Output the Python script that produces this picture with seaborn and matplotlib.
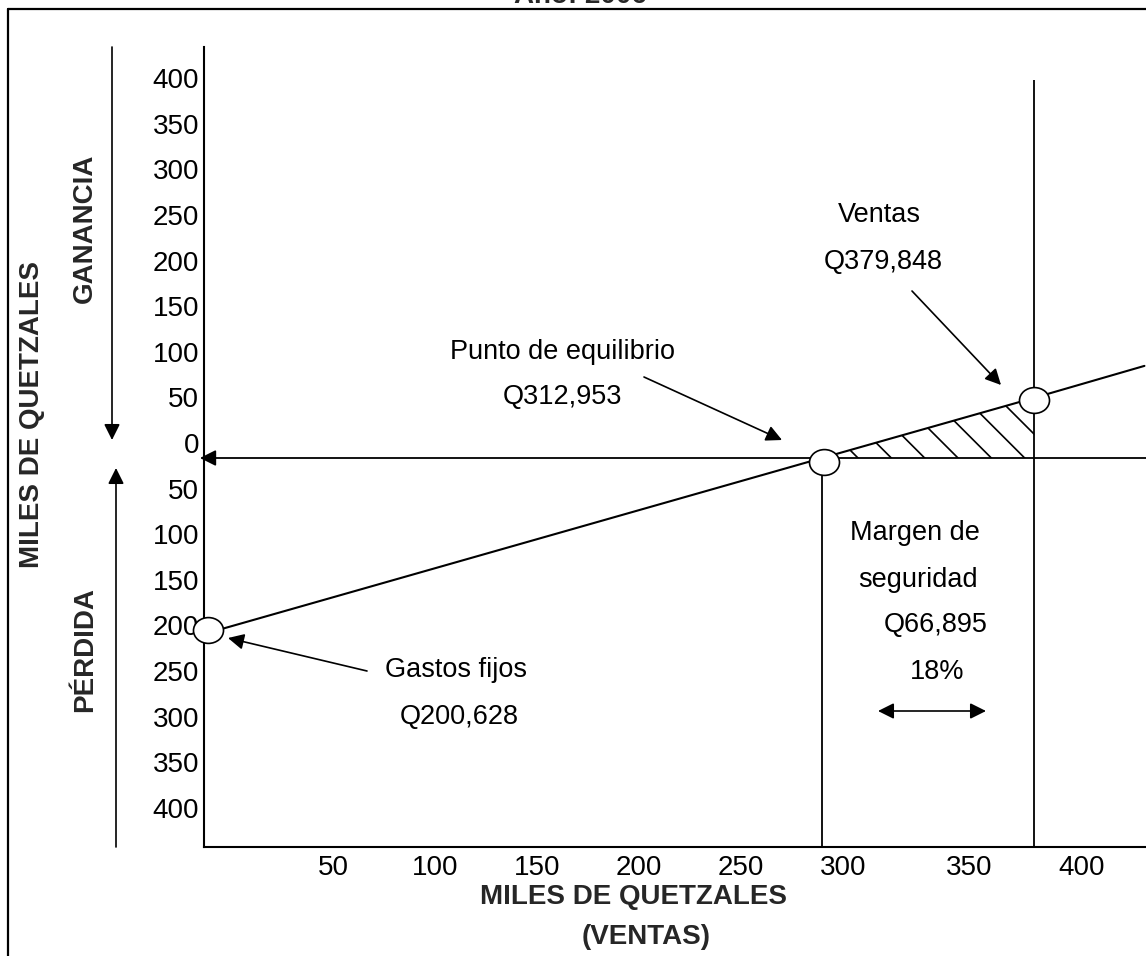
import matplotlib
matplotlib.use('Agg')  # no display in the sandbox
import matplotlib.pyplot as plt
from matplotlib.path import Path
from matplotlib.transforms import Affine2D, ScaledTranslation
from matplotlib.lines import Line2D
import seaborn as sns

# Values (miles de quetzales, drawn scale)
line_x = [0, 303, 407, 461]          # ventas / costos line
line_y = [-193, 0, 66, 101]
point_x = [2, 304, 407]              # gastos fijos, equilibrio, ventas
point_y = [-189, -4, 64]
breakeven_x = 303
sales_x = 407
sales_top = 414
hatch_x = [303, 407]                 # margen de seguridad area
hatch_y = [0, 66]

xtick_pos = [50, 100, 150, 200, 250, 300, 362, 417]
xtick_labels = ['50', '100', '150', '200', '250', '300', '350', '400']
ytick_vals = [400, 350, 300, 250, 200, 150, 100, 50, 0,
              -50, -100, -150, -200, -250, -300, -350, -400]
ytick_labels = ['400', '350', '300', '250', '200', '150', '100', '50', '0',
                '50', '100', '150', '200', '250', '300', '350', '400']

W, H = 1146, 956

sns.set_style('white')
plt.rcParams['font.family'] = ['Liberation Sans', 'DejaVu Sans']
plt.rcParams['hatch.linewidth'] = 1.2


def fxy(px, py):
    # picture pixel -> figure fraction
    return (px / W, 1 - py / H)


fig = plt.figure(figsize=(W / 100, H / 100), dpi=100)
ax = fig.add_axes([204 / W, 1 - 847 / H, (W - 204) / W, (847 - 47) / H])
ax.set_xlim(0, (W - 204) / 2.04)
ax.set_ylim((458 - 847) / 0.912, (458 - 47) / 0.912)
ybot = ax.get_ylim()[0]
xright = ax.get_xlim()[1]

for side in ['top', 'right']:
    ax.spines[side].set_visible(False)
for side in ['left', 'bottom']:
    ax.spines[side].set_linewidth(1.5)
    ax.spines[side].set_color('black')

ax.tick_params(axis='x', direction='in', length=18, width=1.1, pad=6,
               labelsize=20, colors='black')
ax.tick_params(axis='y', direction='in', length=12, width=1.5, pad=3.5,
               labelsize=20, colors='black')
ax.set_xticks(xtick_pos, labels=xtick_labels)
ax.set_yticks(ytick_vals, labels=ytick_labels)
for lab in ax.get_xticklabels():
    lab.set_transform(lab.get_transform() + ScaledTranslation(0.27, 0, fig.dpi_scale_trans))
for lab in ax.get_yticklabels():
    lab.set_transform(lab.get_transform() + ScaledTranslation(0, 0.15, fig.dpi_scale_trans))

# hatched safety margin
ax.fill_between(hatch_x, 0, hatch_y, facecolor='none', edgecolor='black',
                hatch='\\', linewidth=0, zorder=1)

# sales / cost line
sns.lineplot(x=line_x, y=line_y, color='black', linewidth=1.5, ax=ax,
             zorder=2, clip_on=False)

# zero line with arrow pointing to the axis
ax.annotate('', xy=(-2, 0), xytext=(xright, 0),
            arrowprops=dict(arrowstyle='-|>', color='black', lw=1.3,
                            mutation_scale=24, shrinkA=0, shrinkB=0),
            annotation_clip=False)

# vertical guides
ax.vlines(breakeven_x, ybot, 0, color='black', linewidth=1.3, zorder=2)
ax.vlines(sales_x, ybot, sales_top, color='black', linewidth=1.3, zorder=2)

# open ellipses at the key points
ellipse = Path.unit_circle().transformed(Affine2D().scale(1.0, 0.86))
sns.scatterplot(x=point_x, y=point_y, marker=ellipse, s=467, color='white',
                edgecolor='black', linewidth=1.2, ax=ax, zorder=5, clip_on=False)

arrow_kw = dict(arrowstyle='-|>', color='black', lw=1.2, mutation_scale=24,
                shrinkA=0, shrinkB=0)


def arrow(start, tip, style='-|>'):
    kw = dict(arrow_kw, arrowstyle=style)
    ax.annotate('', xy=fxy(*tip), xytext=fxy(*start), xycoords='figure fraction',
                textcoords='figure fraction', arrowprops=kw, annotation_clip=False)


def label(px, py, s, **kw):
    fig.text(*fxy(px, py), s, ha='center', va='center', fontsize=19.5,
             color='black', **kw)


# annotations
label(562, 352, 'Punto de equilibrio')
label(562, 397, 'Q312,953')
arrow((644, 377), (782, 440))

label(879, 215, 'Ventas')
label(883, 262, 'Q379,848')
arrow((912, 291), (1001, 385))

label(456, 670, 'Gastos fijos')
label(459, 717, 'Q200,628')
arrow((367, 671), (228, 638))

label(915, 533, 'Margen de')
label(918, 580, 'seguridad')
label(936, 625, 'Q66,895')
label(937, 672, '18%')
arrow((878, 711), (986, 711), style='<|-|>')

# axis titles and side labels
bold = dict(fontsize=20, fontweight='bold')
fig.text(*fxy(634, 897), 'MILES DE QUETZALES', ha='center', va='center', **bold)
fig.text(*fxy(646, 937), '(VENTAS)', ha='center', va='center', **bold)
fig.text(*fxy(32, 415), 'MILES DE QUETZALES', rotation=90, ha='center', va='center', **bold)
fig.text(*fxy(85, 228), 'GANANCIA', rotation=90, ha='center', va='center', **bold)
fig.text(*fxy(85, 650), 'PÉRDIDA', rotation=90, ha='center', va='center', **bold)
arrow((112, 47), (112, 440))
arrow((116, 847), (116, 468))

# title cut off by the frame top, and the frame itself
fig.text(580 / W, 1 - 3 / H, 'Año: 2006', ha='center', va='baseline', **bold)
fig.add_artist(Line2D([8 / W, 8 / W], [0, 1 - 9 / H], color='black', lw=1.6))
fig.add_artist(Line2D([8 / W, 1], [1 - 9 / H, 1 - 9 / H], color='black', lw=1.6))

fig.savefig('out.png', dpi=100, facecolor='white')
